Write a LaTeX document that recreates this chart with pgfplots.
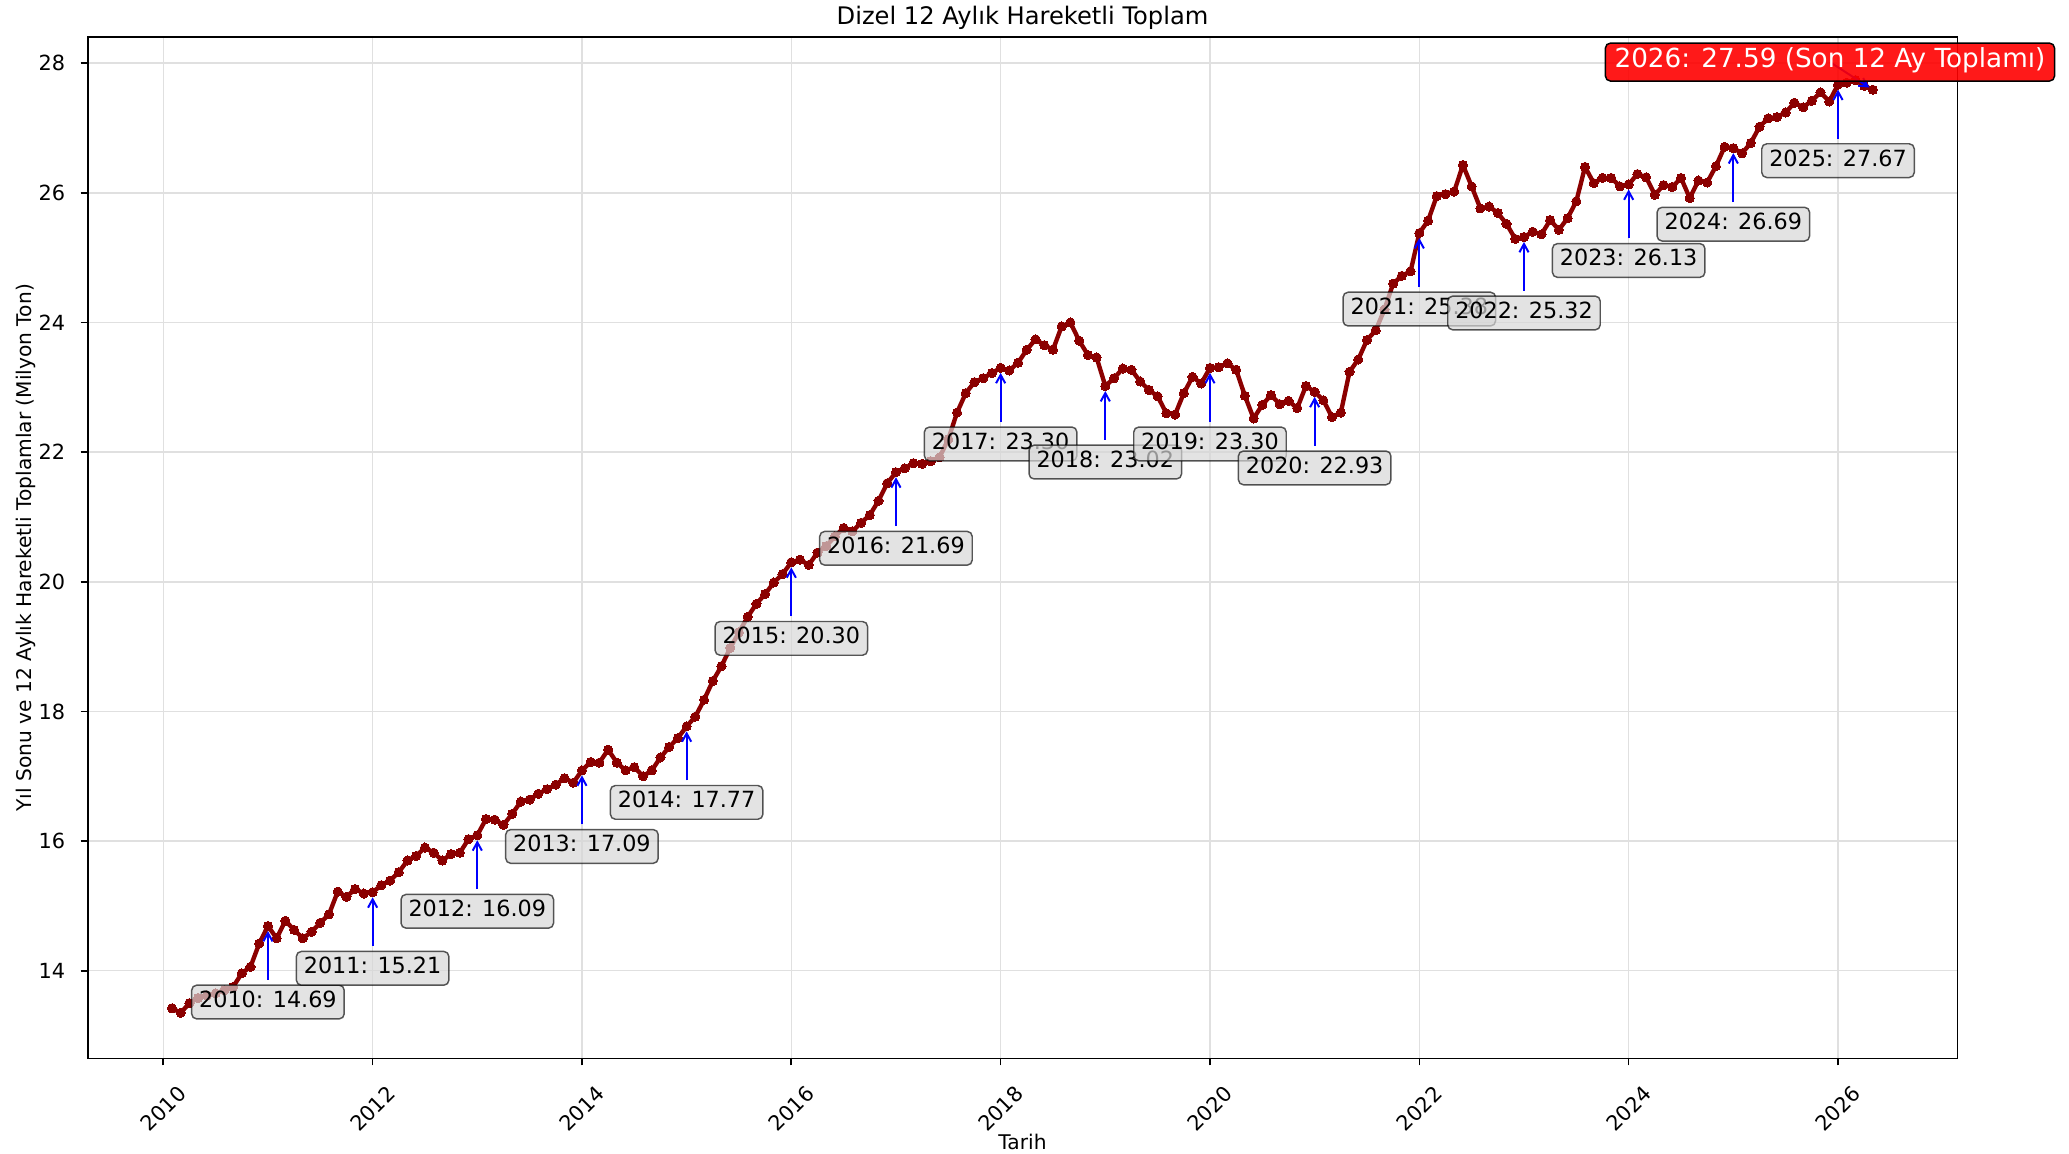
\documentclass[border=0pt]{standalone}
\usepackage{pgfplots}
\pgfplotsset{compat=1.18}
\usepackage{pgfplotstable}
\usepackage{fontspec}
\setmainfont{DejaVu Sans}
\usetikzlibrary{arrows.meta}
\definecolor{darkred}{RGB}{139,0,0}
\definecolor{boxgray}{RGB}{215,215,215}
\definecolor{redbox}{RGB}{255,0,0}

\pgfplotstableread{
m v
1 13.42
2 13.35
3 13.50
4 13.58
5 13.62
6 13.65
7 13.70
8 13.75
9 13.96
10 14.06
11 14.42
12 14.69
13 14.50
14 14.77
15 14.63
16 14.50
17 14.60
18 14.74
19 14.87
20 15.22
21 15.14
22 15.26
23 15.19
24 15.21
25 15.32
26 15.39
27 15.52
28 15.70
29 15.77
30 15.90
31 15.82
32 15.70
33 15.80
34 15.82
35 16.03
36 16.09
37 16.34
38 16.33
39 16.25
40 16.42
41 16.61
42 16.64
43 16.73
44 16.80
45 16.87
46 16.97
47 16.90
48 17.09
49 17.22
50 17.21
51 17.41
52 17.21
53 17.09
54 17.14
55 17.00
56 17.09
57 17.29
58 17.45
59 17.59
60 17.77
61 17.92
62 18.18
63 18.47
64 18.70
65 18.98
66 19.22
67 19.46
68 19.66
69 19.81
70 19.99
71 20.12
72 20.30
73 20.34
74 20.26
75 20.45
76 20.55
77 20.70
78 20.83
79 20.78
80 20.91
81 21.03
82 21.25
83 21.52
84 21.69
85 21.75
86 21.83
87 21.82
88 21.86
89 21.92
90 22.20
91 22.61
92 22.91
93 23.08
94 23.14
95 23.22
96 23.30
97 23.26
98 23.38
99 23.58
100 23.74
101 23.65
102 23.58
103 23.94
104 24.00
105 23.72
106 23.50
107 23.46
108 23.02
109 23.14
110 23.29
111 23.27
112 23.09
113 22.96
114 22.86
115 22.60
116 22.58
117 22.91
118 23.16
119 23.06
120 23.30
121 23.31
122 23.37
123 23.27
124 22.87
125 22.52
126 22.73
127 22.88
128 22.74
129 22.79
130 22.68
131 23.02
132 22.93
133 22.80
134 22.54
135 22.61
136 23.24
137 23.43
138 23.73
139 23.88
140 24.20
141 24.60
142 24.72
143 24.79
144 25.38
145 25.57
146 25.95
147 25.98
148 26.02
149 26.43
150 26.10
151 25.76
152 25.79
153 25.69
154 25.52
155 25.29
156 25.32
157 25.40
158 25.36
159 25.58
160 25.43
161 25.61
162 25.87
163 26.40
164 26.15
165 26.23
166 26.23
167 26.10
168 26.13
169 26.29
170 26.24
171 25.97
172 26.12
173 26.09
174 26.23
175 25.92
176 26.19
177 26.16
178 26.41
179 26.71
180 26.69
181 26.61
182 26.77
183 27.02
184 27.15
185 27.17
186 27.24
187 27.39
188 27.32
189 27.42
190 27.55
191 27.41
192 27.67
193 27.70
194 27.74
195 27.65
196 27.59
}\dieseldata

\tikzset{
  annarrow/.style={draw=blue, line width=0.95pt, -{Straight Barb[length=4pt,width=4.4pt,line width=0.95pt]}},
  annbox/.style={rounded corners=2.4pt, fill=boxgray, fill opacity=0.7, draw=black, draw opacity=0.65,
    line width=0.7pt, text opacity=1, text=black, inner xsep=3.6pt, inner ysep=3.1pt,
    text height=0.76em, text depth=0.24em, font=\fontsize{10.7}{12}\selectfont},
}
\newcommand{\ann}[3]{%
  \draw[annarrow] ([yshift=-25.9pt]axis cs:#1,#2) -- ([yshift=-2.4pt]axis cs:#1,#2);
  \node[annbox] at ([yshift=-36.5pt]axis cs:#1,#2) {#3: #2};
}

\begin{document}
\begin{tikzpicture}
\path[use as bounding box] (-42.1pt,-45.9pt) rectangle (951.0pt,508.0pt);
\begin{axis}[
  name=ax, at={(0pt,0pt)}, anchor=south west,
  width=897.4pt, height=490.1pt, scale only axis,
  xmin=2009.278, xmax=2027.14, ymin=12.648, ymax=28.40,
  xtick={2010,2012,...,2026}, ytick={14,16,...,28},
  xtick pos=lower, ytick pos=left,
  grid=major, major grid style={draw=black!12, line width=0.7pt},
  axis line style={line width=0.77pt},
  tick style={black, line width=0.77pt}, tick align=outside, major tick length=3.4pt,
  /pgf/number format/1000 sep={},
  /pgf/number format/assume math mode=true,
  tick label style={font=\fontsize{10}{12}\selectfont},
  xticklabel style={anchor=center, inner sep=0pt, yshift=-20.8pt, rotate=45},
  yticklabel style={anchor=east, inner sep=0pt, xshift=-7.2pt},
  title={Dizel 12 Aylık Hareketli Toplam},
  title style={at={(axis description cs:0.5,1.0208)}, anchor=center, yshift=-7pt, inner sep=0pt, font=\fontsize{11.6}{14}\selectfont},
  xlabel={Tarih},
  xlabel style={at={(axis description cs:0.5,-0.0814)}, anchor=center, inner sep=0pt, font=\fontsize{9.7}{12}\selectfont},
  ylabel={Yıl Sonu ve 12 Aylık Hareketli Toplamlar (Milyon Ton)},
  ylabel style={at={(axis description cs:-0.0328,0.5)}, anchor=center, inner sep=0pt, font=\fontsize{9.7}{12}\selectfont},
  clip mode=individual,
]
\addplot[color=darkred, line width=2.1pt, line join=round, mark=*, mark size=2.2pt,
  mark options={solid, fill=darkred, draw=darkred, line width=0pt}]
  table[x expr=2010+\thisrow{m}/12, y=v] {\dieseldata};

\ann{2011}{14.69}{2010}
\ann{2012}{15.21}{2011}
\ann{2013}{16.09}{2012}
\ann{2014}{17.09}{2013}
\ann{2015}{17.77}{2014}
\ann{2016}{20.30}{2015}
\ann{2017}{21.69}{2016}
\ann{2018}{23.30}{2017}
\ann{2019}{23.02}{2018}
\ann{2020}{23.30}{2019}
\ann{2021}{22.93}{2020}
\ann{2022}{25.38}{2021}
\ann{2023}{25.32}{2022}
\ann{2024}{26.13}{2023}
\ann{2025}{26.69}{2024}
\ann{2026}{27.67}{2025}

\draw[annarrow, shorten >=2pt] ([xshift=-20.6pt,yshift=13.3pt]axis cs:2026.3333,27.59) -- (axis cs:2026.3333,27.59);
\node[rounded corners=2.4pt, fill=redbox, fill opacity=0.9, draw=black, line width=0.7pt, text opacity=1,
  text=white, inner xsep=4.4pt, inner ysep=4.1pt, text height=0.76em, text depth=0.24em,
  font=\fontsize{12.6}{14}\selectfont]
  at ([xshift=-20.6pt,yshift=13.3pt]axis cs:2026.3333,27.59) {2026: 27.59 (Son 12 Ay Toplamı)};
\end{axis}
\end{tikzpicture}
\end{document}
